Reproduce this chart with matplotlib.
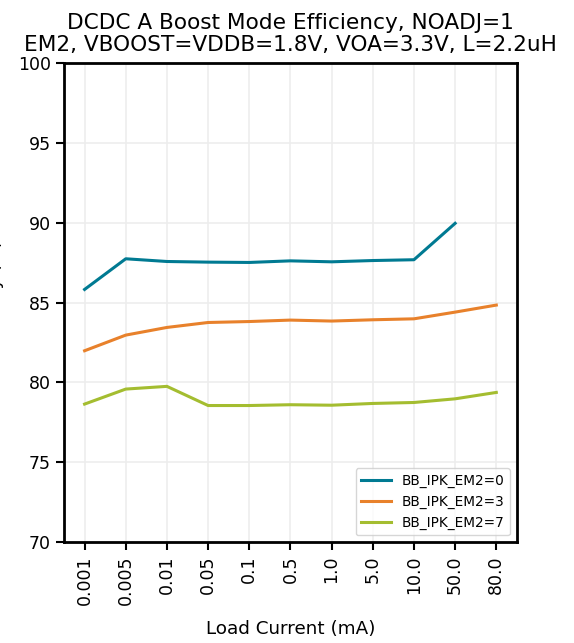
import numpy as np
import matplotlib
matplotlib.use('Agg')
import matplotlib.pyplot as plt

# Load current categories (mA)
load_labels = ['0.001', '0.005', '0.01', '0.05', '0.1', '0.5', '1.0', '5.0', '10.0', '50.0', '80.0']

# Efficiency (%) per setting
eff_em2_0 = [85.82, 87.74, 87.57, 87.53, 87.51, 87.61, 87.55, 87.63, 87.68, 89.96]
eff_em2_3 = [81.98, 82.96, 83.44, 83.75, 83.81, 83.90, 83.84, 83.92, 83.98, 84.40, 84.84]
eff_em2_7 = [78.64, 79.58, 79.75, 78.55, 78.55, 78.60, 78.57, 78.68, 78.74, 78.97, 79.37]

series = [
    ('BB_IPK_EM2=0', eff_em2_0, '#007a92'),
    ('BB_IPK_EM2=3', eff_em2_3, '#e8812b'),
    ('BB_IPK_EM2=7', eff_em2_7, '#a4bd30'),
]

fig = plt.figure(figsize=(5.74, 6.43), dpi=100)
ax = fig.add_axes([0.1115, 0.157, 0.789, 0.745])

x = np.arange(len(load_labels))
for name, vals, col in series:
    ax.plot(x[:len(vals)], vals, color=col, lw=2.2, label=name)

ax.set_ylim(70, 100)
ax.set_xlim(-0.5, len(load_labels) - 0.5)
ax.set_yticks(range(70, 101, 5))
ax.set_xticks(x)
ax.set_xticklabels(load_labels, rotation=90)
ax.tick_params(labelsize=12.5, width=1.5, length=6)
ax.grid(True, color='#ededed', lw=1.2)
ax.set_axisbelow(True)
for sp in ax.spines.values():
    sp.set_linewidth(2)

ax.set_xlabel('Load Current (mA)', fontsize=13.2, labelpad=11)
ax.set_ylabel('Efficiency (%)', fontsize=13.2)
ax.yaxis.set_label_coords(-0.132, 0.5)
ax.set_title('DCDC A Boost Mode Efficiency, NOADJ=1\nEM2, VBOOST=VDDB=1.8V, VOA=3.3V, L=2.2uH',
             fontsize=15.6, linespacing=1.1, pad=9)

ax.legend(loc='lower right', fontsize=9.8, framealpha=0.8, handlelength=2.2)

fig.savefig('out.png', dpi=100)
